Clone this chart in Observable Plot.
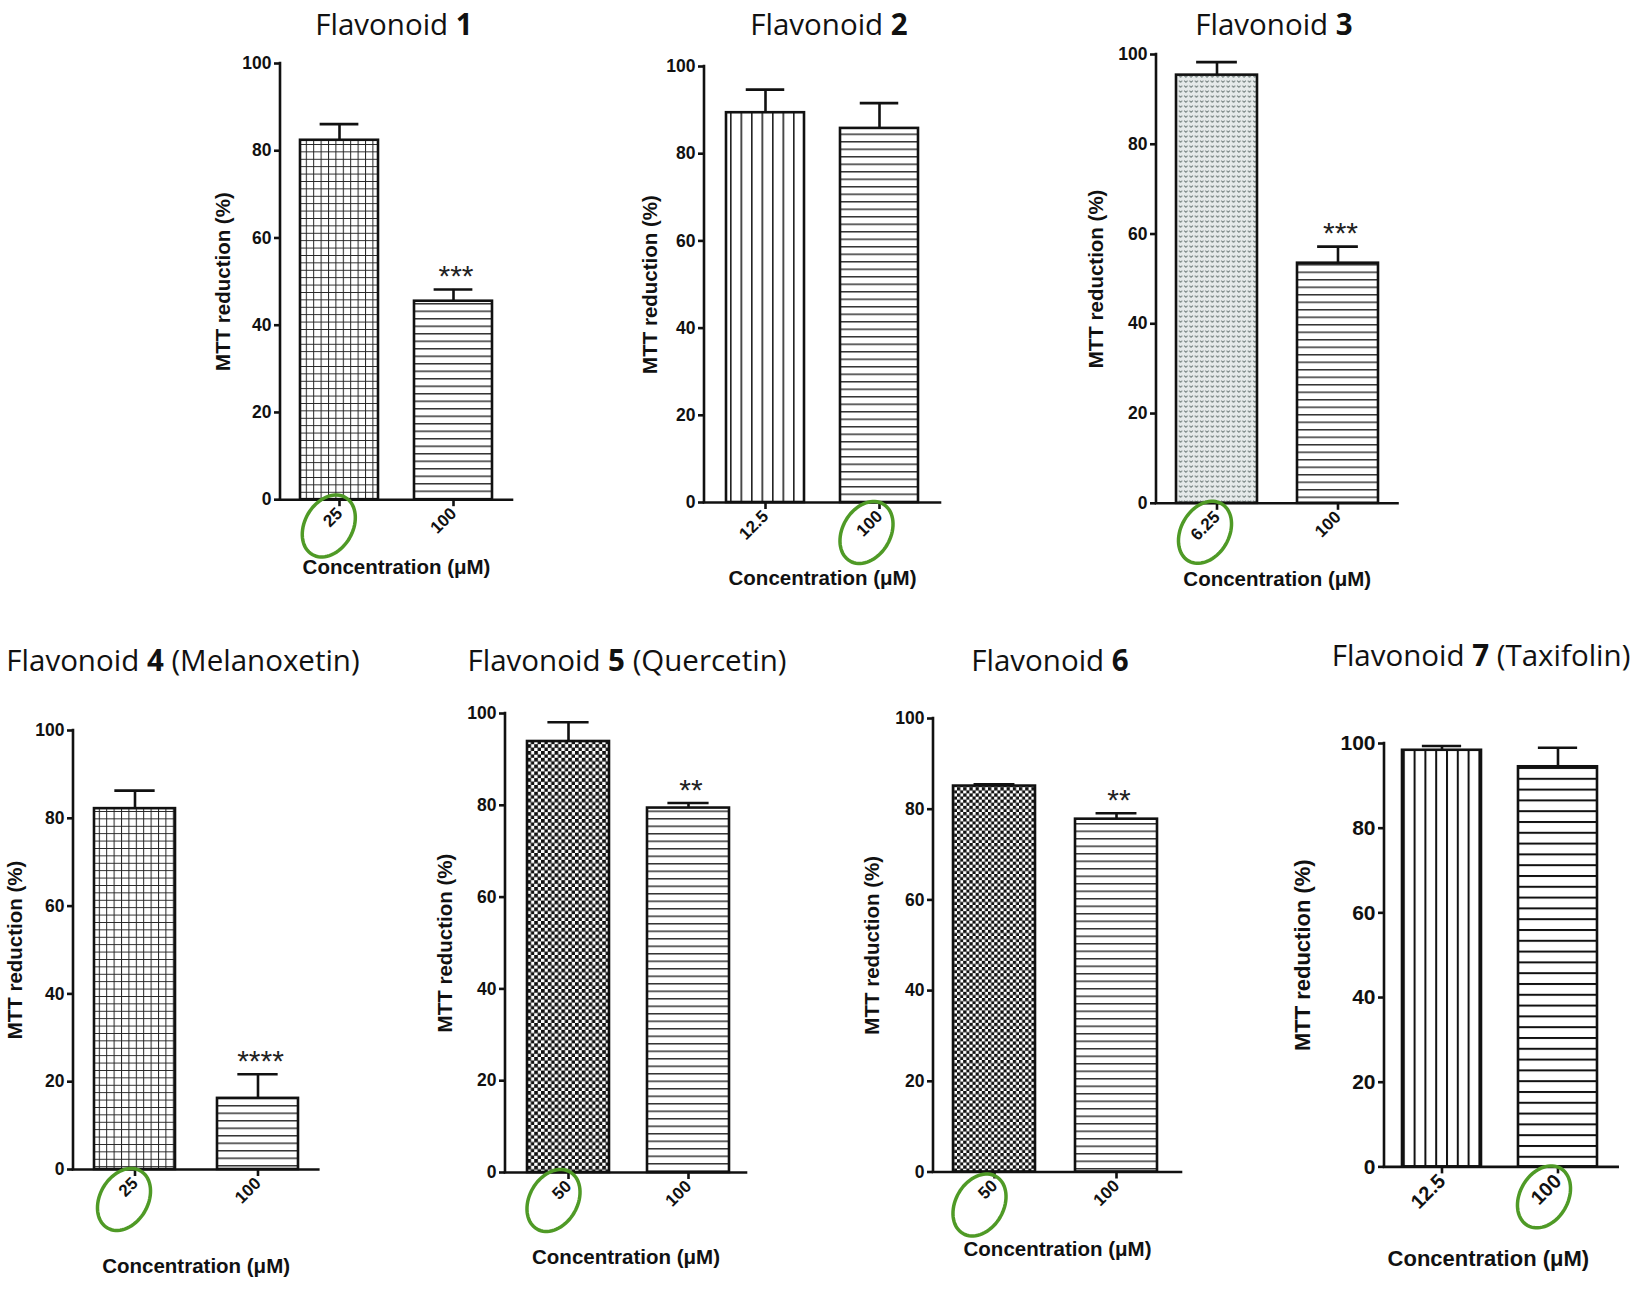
<!DOCTYPE html>
<html><head><meta charset="utf-8">
<script src="https://cdn.jsdelivr.net/npm/d3@7"></script>
<script src="https://cdn.jsdelivr.net/npm/@observablehq/plot@0.6"></script>
<style>
html,body{margin:0;padding:0;background:#fff;}
#fig{position:relative;width:1643px;height:1290px;overflow:hidden;background:#fff;}
.panel{position:absolute;}
.title{position:absolute;font-family:"Open Sans",sans-serif;font-size:29.5px;line-height:29.5px;white-space:nowrap;color:#111;text-align:center;width:600px;}
.title b{font-weight:700;}
</style></head><body>
<svg width="0" height="0" style="position:absolute">
<defs>
<pattern id="pGrid" width="7.4" height="7.4" patternUnits="userSpaceOnUse"><rect width="7.4" height="7.4" fill="#fff"/><path d="M0 0.5H7.4M0.5 0V7.4" stroke="#222" stroke-width="1"/></pattern>
<pattern id="pH" width="10" height="7.5" patternUnits="userSpaceOnUse"><rect width="10" height="7.5" fill="#fff"/><path d="M0 0.75H10" stroke="#333" stroke-width="1.5"/></pattern>
<pattern id="pH7" width="10" height="10.8" patternUnits="userSpaceOnUse"><rect width="10" height="10.8" fill="#fff"/><path d="M0 1H10" stroke="#111" stroke-width="2"/></pattern>
<pattern id="pV" width="10.5" height="10" patternUnits="userSpaceOnUse"><rect width="10.5" height="10" fill="#fff"/><path d="M0.8 0V10" stroke="#222" stroke-width="1.6"/></pattern>
<pattern id="pV7" width="10.8" height="10" patternUnits="userSpaceOnUse"><rect width="10.8" height="10" fill="#fff"/><path d="M1 0V10" stroke="#111" stroke-width="2"/></pattern>
<pattern id="pDot" width="5.3" height="5" patternUnits="userSpaceOnUse"><rect width="5.3" height="5" fill="#e6eaea"/><path d="M1 1.6L2.65 3.4L4.3 1.6" stroke="#6f7c7a" stroke-width="0.9" fill="none"/></pattern>
<pattern id="pChk1" width="6.8" height="6.8" patternUnits="userSpaceOnUse"><rect width="6.8" height="6.8" fill="#fff"/><rect width="3.7" height="3.7" fill="#111"/><rect x="3.4" y="3.4" width="3.7" height="3.7" fill="#111"/></pattern>
<pattern id="pChk2" width="6.2" height="6.2" patternUnits="userSpaceOnUse"><rect width="6.2" height="6.2" fill="#fff"/><rect width="3.3" height="3.3" fill="#111"/><rect x="3.1" y="3.1" width="3.3" height="3.3" fill="#111"/></pattern>
</defs></svg>
<div id="fig"></div>
<script>
// ---- data ----
const flavNumber = ["1","2","3","4","5","6","7"];
const flavName = ["","",""," (Melanoxetin)"," (Quercetin)",""," (Taxifolin)"];
const doses = [["25","100"],["12.5","100"],["6.25","100"],["25","100"],["50","100"],["50","100"],["12.5","100"]];
const means = [[82.4,45.5],[89.4,85.8],[95.4,53.5],[82.2,16.2],[93.9,79.4],[85.1,77.8],[98.4,94.5]];
const sems = [[3.7,2.7],[5.3,5.8],[2.9,3.7],[4.1,5.5],[4.2,1.1],[0.4,1.3],[1.0,4.5]];
const stars = [["","***"],["",""],["","***"],["","****"],["","**"],["","**"],["",""]];
const circled = ["25","100","6.25","25","50","50","100"];
const yTicks = [0,20,40,60,80,100];
const yLabel = "MTT reduction (%)";
const xLabel = "Concentration (μM)";

// ---- layout (page coordinates of each panel frame) ----
const layout = [
 {fL:280, fR:512, fT:63.3, fB:499.5, bar1:[300,378], bar2:[414,493], fills:["url(#pGrid)","url(#pH)"], yl:57, xl:68, xdx:0, el:[-10.7,26.3], tx:394, ty:35},
 {fL:704, fR:940, fT:66, fB:502, bar1:[725,804], bar2:[840,919], fills:["url(#pV)","url(#pH)"], yl:54.5, xl:76, xdx:0, el:[-13,30], tx:829, ty:35},
 {fL:1155.5, fR:1397, fT:53.5, fB:502.3, bar1:[1175.5,1256.5], bar2:[1297,1377], fills:["url(#pDot)","url(#pH)"], yl:60, xl:76, xdx:0, el:[-12,29], tx:1274, ty:35},
 {fL:72.7, fR:318, fT:730.3, fB:1169.3, bar1:[93.3,175], bar2:[216.7,297.7], fills:["url(#pGrid)","url(#pH)"], yl:58, xl:97, xdx:0, el:[-11,30], tx:183, ty:671},
 {fL:505, fR:746, fT:713, fB:1172, bar1:[526.7,608.3], bar2:[646.7,728.3], fills:["url(#pChk1)","url(#pH)"], yl:60, xl:85, xdx:0, el:[-15,28], tx:627, ty:671},
 {fL:933, fR:1181, fT:718.3, fB:1171.8, bar1:[953.3,1036], bar2:[1076,1157.7], fills:["url(#pChk2)","url(#pH)"], yl:61, xl:77, xdx:0, el:[-15,33], tx:1050, ty:671},
 {fL:1384.3, fR:1618, fT:743.3, fB:1166.7, bar1:[1402.3,1482.3], bar2:[1519.3,1598.3], fills:["url(#pV7)","url(#pH7)"], yl:82, xl:92, xdx:-13, el:[-14,30], tx:1481, ty:666, big:true}
];

const ellipseSymbol = {
  draw(ctx, size) {
    const r = Math.sqrt(size / Math.PI);
    const a = r, b = r * 0.727, th = 30 * Math.PI / 180;
    const c = Math.cos(th), s = Math.sin(th);
    for (let i = 0; i <= 72; i++) {
      const t = i / 72 * 2 * Math.PI;
      const x0 = b * Math.cos(t), y0 = a * Math.sin(t);
      const x = x0 * c - y0 * s, y = x0 * s + y0 * c;
      if (i === 0) ctx.moveTo(x, y); else ctx.lineTo(x, y);
    }
    ctx.closePath();
  }
};

const fig = document.getElementById("fig");
const ink = "#111";
const mL = 100, mR = 20, mT = 30, mB = 115;

layout.forEach((L, k) => {
  const fw = L.fR - L.fL, fh = L.fB - L.fT;
  const [a1, a2] = L.bar1, [c1, c2] = L.bar2;
  const step = (c1 + c2) / 2 - (a1 + a2) / 2;
  const bwPx = ((a2 - a1) + (c2 - c1)) / 2;
  const pI = 1 - bwPx / step;
  const Lo = a1 - L.fL, Ro = L.fR - c2;
  const pO = (Lo + Ro) / (2 * step);
  const align = Lo / (Lo + Ro);
  const fs = L.big
    ? {yt: 21, xt: 20, lab: 22, ls: 3.9, yls: 3.2, tls: 1}
    : {yt: 17.5, xt: 17, lab: 20.5, ls: 0.3, yls: 0.3, tls: 0};

  const rows = doses[k].map((d, i) => ({dose: d, mean: means[k][i], sem: sems[k][i], star: stars[k][i]}));

  const plot = Plot.plot({
    width: mL + fw + mR,
    height: mT + fh + mB,
    marginLeft: mL, marginRight: mR, marginTop: mT, marginBottom: mB,
    style: {fontFamily: "'Liberation Sans', Arial, sans-serif", color: ink, background: "transparent", overflow: "visible"},
    x: {type: "band", domain: doses[k], paddingInner: pI, paddingOuter: pO, align, axis: null},
    y: {domain: [0, 100], axis: null},
    marks: [
      Plot.barY([rows[0]], {x: "dose", y: "mean", fill: L.fills[0], stroke: ink, strokeWidth: 2.6}),
      Plot.barY([rows[1]], {x: "dose", y: "mean", fill: L.fills[1], stroke: ink, strokeWidth: 2.6}),
      Plot.ruleX(rows, {x: "dose", y1: "mean", y2: d => d.mean + d.sem, stroke: ink, strokeWidth: 2.6}),
      Plot.tickY(rows, {x: "dose", y: d => d.mean + d.sem, stroke: ink, strokeWidth: 2.6, insetLeft: bwPx / 4, insetRight: bwPx / 4}),
      Plot.ruleY([0], {stroke: ink, strokeWidth: 2.6, strokeLinecap: "square"}),
      Plot.axisY({ticks: yTicks, tickSize: 6, tickPadding: 3, tickFormat: d => String(d), fontSize: fs.yt, fontWeight: "bold", strokeWidth: 2.6, label: null, ariaLabel: "yax"}),
      Plot.axisX({tickSize: 7, tickPadding: 4, tickRotate: -45, fontSize: fs.xt, fontWeight: "bold", strokeWidth: 2.6, label: null, ariaLabel: "xax"}),
      Plot.text(rows.filter(d => d.star), {x: "dose", y: d => d.mean + d.sem, text: "star", dy: -13, dx: 2.5, fontSize: 30, lineAnchor: "middle", fill: "#222", ariaLabel: "stars"}),
      Plot.text([yLabel], {frameAnchor: "left", textAnchor: "middle", rotate: -90, dx: -L.yl, fontSize: fs.lab, fontWeight: "bold", lineAnchor: "middle", ariaLabel: "ylab"}),
      Plot.text([xLabel], {frameAnchor: "bottom", textAnchor: "middle", dx: L.xdx, dy: L.xl, fontSize: fs.lab, fontWeight: "bold", lineAnchor: "middle", ariaLabel: "xlab"}),
      Plot.dot([circled[k]], {x: d => d, y: () => 0, dx: L.el[0], dy: L.el[1], r: 33, symbol: ellipseSymbol, stroke: "#4f9a26", strokeWidth: 3.5, fill: "none"})
    ]
  });

  const svg = d3.select(plot);
  const y = plot.scale("y");
  svg.append("line")
    .attr("x1", mL).attr("x2", mL)
    .attr("y1", y.apply(0)).attr("y2", y.apply(100))
    .attr("stroke", ink).attr("stroke-width", 2.6).attr("stroke-linecap", "square");
  svg.selectAll('g[aria-label="stars"] text').style("letter-spacing", "5px");
  svg.selectAll('g[aria-label="ylab"] text').style("letter-spacing", fs.yls + "px");
  svg.selectAll('g[aria-label="xlab"] text').style("letter-spacing", fs.ls + "px");
  if (fs.tls) svg.selectAll('g[aria-label="yax"] text, g[aria-label="xax"] text').style("letter-spacing", fs.tls + "px");

  plot.classList.add("panel");
  plot.style.left = (L.fL - mL) + "px";
  plot.style.top = (L.fT - mT) + "px";
  fig.appendChild(plot);

  const t = document.createElement("div");
  t.className = "title";
  t.style.left = (L.tx - 300) + "px";
  t.style.top = (L.ty - 26.2) + "px";
  t.innerHTML = "Flavonoid <b>" + flavNumber[k] + "</b>" + flavName[k];
  fig.appendChild(t);
});
</script>
</body></html>
